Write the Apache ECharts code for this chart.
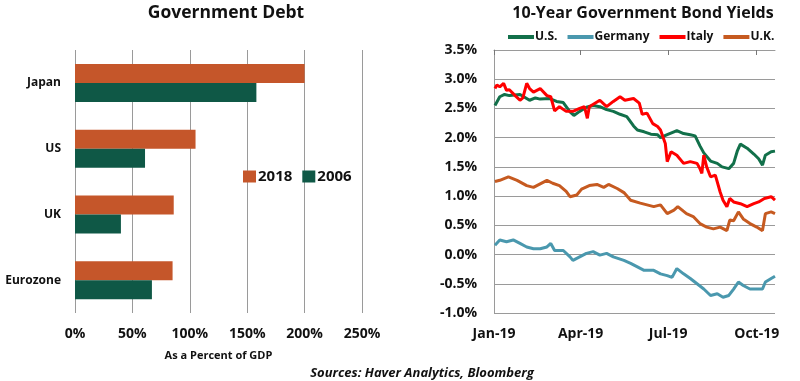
<!DOCTYPE html>
<html><head><meta charset="utf-8">
<script src="https://cdn.jsdelivr.net/npm/echarts@6/dist/echarts.min.js"></script>
<style>html,body{margin:0;padding:0;background:#fff}#c{width:800px;height:381px}</style>
</head><body><div id="c"></div>
<script>
const countries = ['Japan','US','UK','Eurozone'];
const debt2018 = [200, 105, 86, 85];
const debt2006 = [158, 61, 40, 67];
const debtTicks = [0, 50, 100, 150, 200, 250];

const us = [['2019-01-02',2.55],['2019-01-07',2.70],['2019-01-12',2.74],['2019-01-17',2.72],['2019-01-28',2.74],['2019-02-07',2.64],['2019-02-13',2.68],['2019-02-18',2.66],['2019-02-28',2.67],['2019-03-07',2.62],['2019-03-14',2.60],['2019-03-21',2.44],['2019-03-25',2.38],['2019-03-31',2.45],['2019-04-07',2.52],['2019-04-14',2.55],['2019-04-21',2.53],['2019-04-28',2.48],['2019-05-05',2.45],['2019-05-12',2.40],['2019-05-19',2.36],['2019-05-26',2.20],['2019-05-30',2.13],['2019-06-06',2.10],['2019-06-13',2.06],['2019-06-20',2.05],['2019-06-23',2.00],['2019-06-30',2.05],['2019-07-07',2.10],['2019-07-10',2.12],['2019-07-17',2.07],['2019-07-24',2.05],['2019-07-29',2.03],['2019-08-03',1.86],['2019-08-07',1.74],['2019-08-14',1.60],['2019-08-21',1.56],['2019-08-26',1.50],['2019-09-02',1.47],['2019-09-07',1.56],['2019-09-11',1.78],['2019-09-14',1.89],['2019-09-21',1.82],['2019-09-28',1.72],['2019-10-03',1.64],['2019-10-07',1.53],['2019-10-10',1.70],['2019-10-16',1.76],['2019-10-20',1.77]];
const germany = [['2019-01-02',0.16],['2019-01-07',0.25],['2019-01-14',0.22],['2019-01-21',0.25],['2019-01-28',0.19],['2019-02-04',0.13],['2019-02-11',0.10],['2019-02-18',0.10],['2019-02-25',0.13],['2019-03-01',0.19],['2019-03-05',0.07],['2019-03-14',0.07],['2019-03-21',-0.04],['2019-03-24',-0.10],['2019-03-31',-0.04],['2019-04-07',0.02],['2019-04-14',0.05],['2019-04-21',-0.01],['2019-04-28',0.02],['2019-05-05',-0.04],['2019-05-16',-0.10],['2019-05-23',-0.15],['2019-05-30',-0.21],['2019-06-06',-0.27],['2019-06-16',-0.27],['2019-06-23',-0.33],['2019-06-30',-0.36],['2019-07-05',-0.39],['2019-07-10',-0.24],['2019-07-17',-0.33],['2019-07-24',-0.41],['2019-07-31',-0.50],['2019-08-07',-0.59],['2019-08-14',-0.70],['2019-08-21',-0.67],['2019-08-27',-0.73],['2019-09-02',-0.70],['2019-09-07',-0.59],['2019-09-12',-0.47],['2019-09-17',-0.53],['2019-09-24',-0.59],['2019-10-01',-0.59],['2019-10-07',-0.59],['2019-10-10',-0.47],['2019-10-16',-0.41],['2019-10-20',-0.37]];
const italy = [['2019-01-02',2.84],['2019-01-04',2.90],['2019-01-07',2.87],['2019-01-11',2.93],['2019-01-14',2.81],['2019-01-17',2.82],['2019-01-23',2.72],['2019-01-28',2.64],['2019-01-31',2.68],['2019-02-04',2.93],['2019-02-07',2.84],['2019-02-11',2.78],['2019-02-18',2.84],['2019-02-25',2.72],['2019-03-01',2.70],['2019-03-05',2.46],['2019-03-10',2.53],['2019-03-17',2.45],['2019-03-24',2.45],['2019-03-31',2.50],['2019-04-05',2.53],['2019-04-08',2.33],['2019-04-10',2.53],['2019-04-21',2.64],['2019-04-28',2.53],['2019-05-05',2.62],['2019-05-12',2.70],['2019-05-17',2.64],['2019-05-26',2.67],['2019-06-01',2.59],['2019-06-04',2.40],['2019-06-09',2.42],['2019-06-15',2.24],['2019-06-20',2.19],['2019-06-23',2.13],['2019-06-28',1.90],['2019-06-30',1.59],['2019-07-04',1.76],['2019-07-10',1.70],['2019-07-17',1.56],['2019-07-24',1.59],['2019-07-31',1.56],['2019-08-03',1.47],['2019-08-05',1.39],['2019-08-07',1.70],['2019-08-10',1.50],['2019-08-14',1.33],['2019-08-19',1.36],['2019-08-24',1.07],['2019-08-27',0.93],['2019-08-31',0.82],['2019-09-03',0.96],['2019-09-07',0.90],['2019-09-14',0.87],['2019-09-21',0.82],['2019-09-28',0.87],['2019-10-03',0.90],['2019-10-09',0.96],['2019-10-16',0.99],['2019-10-20',0.93]];
const uk = [['2019-01-02',1.25],['2019-01-07',1.27],['2019-01-16',1.33],['2019-01-25',1.27],['2019-02-04',1.18],['2019-02-11',1.15],['2019-02-25',1.27],['2019-03-03',1.22],['2019-03-10',1.18],['2019-03-17',1.08],['2019-03-21',0.99],['2019-03-28',1.02],['2019-04-02',1.12],['2019-04-10',1.18],['2019-04-18',1.20],['2019-04-25',1.15],['2019-04-30',1.20],['2019-05-09',1.13],['2019-05-16',1.06],['2019-05-23',0.93],['2019-06-02',0.88],['2019-06-09',0.85],['2019-06-16',0.82],['2019-06-23',0.85],['2019-06-30',0.70],['2019-07-07',0.76],['2019-07-11',0.82],['2019-07-20',0.70],['2019-07-27',0.65],['2019-08-03',0.53],['2019-08-10',0.47],['2019-08-17',0.44],['2019-08-24',0.47],['2019-08-31',0.41],['2019-09-03',0.59],['2019-09-07',0.58],['2019-09-12',0.73],['2019-09-17',0.61],['2019-09-24',0.53],['2019-10-01',0.47],['2019-10-07',0.41],['2019-10-10',0.70],['2019-10-16',0.73],['2019-10-20',0.70]];
const yieldTicks = ['2019-01-01','2019-04-01','2019-07-01','2019-10-01'];
const monthNames = ['Jan','Feb','Mar','Apr','May','Jun','Jul','Aug','Sep','Oct','Nov','Dec'];

const FONT = 'Open Sans';
const ts = s => { const p = s.split('-'); return +new Date(+p[0], +p[1]-1, +p[2]); };
const toXY = arr => arr.map(d => [ts(d[0]), d[1]]);
const tickVals = yieldTicks.map(ts);
const xMin = ts('2019-01-01'), xMax = ts('2019-10-20');
const gridGray = '#9a9a9a';

const chart = echarts.init(document.getElementById('c'));
chart.setOption({
  animation: false,
  textStyle: { fontFamily: FONT },
  title: [
    { text: 'Government Debt', left: 221, top: -1, textAlign: 'center', textStyle: { fontFamily: FONT, fontWeight: 'bold', fontSize: 17.5, color: '#111' } },
    { text: '10-Year Government Bond Yields', left: 638, top: 0, textAlign: 'center', textStyle: { fontFamily: FONT, fontWeight: 'bold', fontSize: 16, color: '#111' } },
    { text: 'Sources: Haver Analytics, Bloomberg', left: 417, top: 362, textAlign: 'center', textStyle: { fontFamily: FONT, fontWeight: 'bold', fontStyle: 'italic', fontSize: 13, color: '#111' } }
  ],
  legend: [
    { data: ['2018','2006'], left: 238, top: 164, icon: 'rect', itemWidth: 13, itemHeight: 12, itemGap: 10,
      textStyle: { fontFamily: FONT, fontWeight: 'bold', fontSize: 15, color: '#111', padding: [0,0,0,-3] } },
    { data: ['U.S.','Germany','Italy','U.K.'], left: 503, top: 26, itemWidth: 26, itemHeight: 4, itemGap: 10,
      icon: 'rect',
      textStyle: { fontFamily: FONT, fontWeight: 'bold', fontSize: 12, color: '#111', padding: [0,0,0,-4] } }
  ],
  grid: [
    { left: 75, right: 438, top: 50, bottom: 68 },
    { left: 494, right: 25, top: 50, bottom: 68 }
  ],
  xAxis: [
    { type: 'value', gridIndex: 0, min: 0, max: 250, interval: 50,
      axisLine: { show: false }, axisTick: { show: false },
      splitLine: { show: true, lineStyle: { color: gridGray, width: 1 } },
      axisLabel: { margin: 14, formatter: v => v + '%', fontFamily: FONT, fontWeight: 'bold', fontSize: 14, color: '#111' },
      name: 'As a Percent of GDP', nameLocation: 'middle', nameGap: 37,
      nameTextStyle: { fontFamily: FONT, fontWeight: 'bold', fontSize: 11, color: '#111' } },
    { type: 'value', gridIndex: 1, min: xMin, max: xMax,
      axisLine: { show: false }, axisTick: { show: false }, splitLine: { show: false },
      axisLabel: { customValues: tickVals, margin: 14,
        formatter: v => { const d = new Date(v); return monthNames[d.getMonth()] + '-19'; },
        fontFamily: FONT, fontWeight: 'bold', fontSize: 14, color: '#111' } },
    { type: 'value', gridIndex: 1, min: xMin, max: xMax, position: 'top',
      axisLine: { show: true, onZero: true, lineStyle: { color: gridGray } },
      axisTick: { show: true, inside: true, length: 5, customValues: tickVals, lineStyle: { color: '#777' } },
      axisLabel: { show: false }, splitLine: { show: false } }
  ],
  yAxis: [
    { type: 'category', gridIndex: 0, data: countries, inverse: true,
      axisLine: { show: false }, axisTick: { show: false },
      axisLabel: { margin: 14, fontFamily: FONT, fontWeight: 'bold', fontSize: 12, color: '#111' } },
    { type: 'value', gridIndex: 1, min: -1, max: 3.5, interval: 0.5,
      axisLine: { show: true, lineStyle: { color: gridGray } }, axisTick: { show: false },
      splitLine: { show: true, lineStyle: { color: gridGray } },
      axisLabel: { margin: 17, formatter: v => v.toFixed(1) + '%', fontFamily: FONT, fontWeight: 'bold', fontSize: 14, color: '#111' } }
  ],
  series: [
    { name: '2018', type: 'bar', xAxisIndex: 0, yAxisIndex: 0, data: debt2018, barWidth: 19, barGap: '0%', itemStyle: { color: '#C5562A' } },
    { name: '2006', type: 'bar', xAxisIndex: 0, yAxisIndex: 0, data: debt2006, barWidth: 19, barGap: '0%', itemStyle: { color: '#0F5846' } },
    { name: 'U.S.', type: 'line', xAxisIndex: 1, yAxisIndex: 1, data: toXY(us), showSymbol: false, lineStyle: { width: 3, color: '#12704A' }, itemStyle: { color: '#12704A' } },
    { name: 'Germany', type: 'line', xAxisIndex: 1, yAxisIndex: 1, data: toXY(germany), showSymbol: false, lineStyle: { width: 3, color: '#4A98AE' }, itemStyle: { color: '#4A98AE' } },
    { name: 'Italy', type: 'line', xAxisIndex: 1, yAxisIndex: 1, data: toXY(italy), showSymbol: false, lineStyle: { width: 3, color: '#FF0000' }, itemStyle: { color: '#FF0000' } },
    { name: 'U.K.', type: 'line', xAxisIndex: 1, yAxisIndex: 1, data: toXY(uk), showSymbol: false, lineStyle: { width: 3, color: '#C65A20' }, itemStyle: { color: '#C65A20' } }
  ]
});
</script></body></html>
